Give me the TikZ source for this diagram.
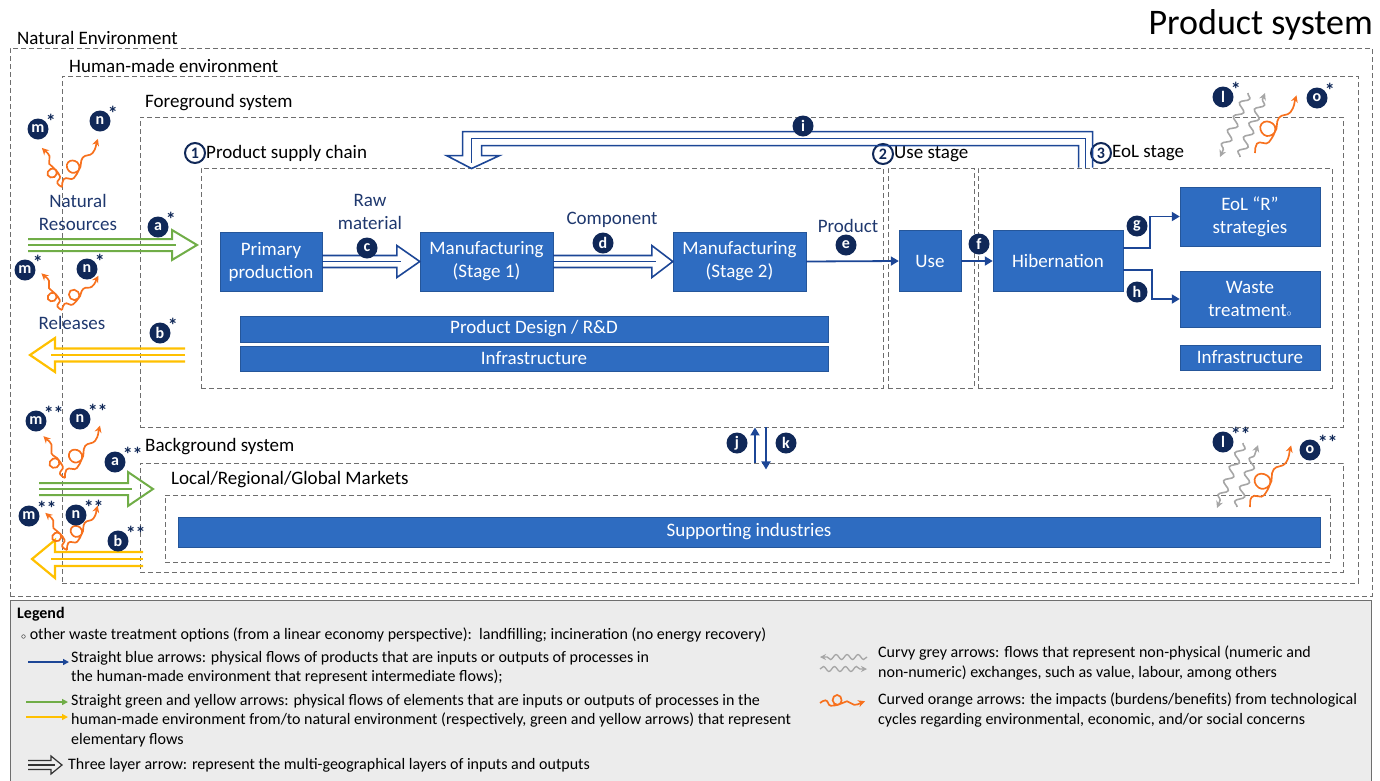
\documentclass[tikz,border=0pt]{standalone}
\usepackage{fontspec}
\setmainfont{Carlito}
\usetikzlibrary{arrows.meta,calc,decorations.pathmorphing,positioning}

\definecolor{BoxBlue}{RGB}{46,108,193}
\definecolor{Navy}{RGB}{16,40,88}
\definecolor{LabelBlue}{RGB}{31,56,110}
\definecolor{FlowBlue}{RGB}{28,70,150}
\definecolor{LeafGreen}{RGB}{112,173,71}
\definecolor{Amber}{RGB}{255,192,0}
\definecolor{Tangerine}{RGB}{247,113,30}
\definecolor{Slate}{RGB}{166,166,166}
\definecolor{FrameGrey}{RGB}{110,110,110}
\definecolor{Paper}{RGB}{236,236,236}

\newcommand{\Tripath}[6]{%
  \coordinate (tb) at ($(#2)!#6pt!(#1)$);
  \draw[#3] ($(#1)!#4pt!90:(#2)$) -- ($(tb)!#4pt!90:(#2)$) -- ($(tb)!#5pt!90:(#2)$) -- (#2)
     -- ($(tb)!#5pt!-90:(#2)$) -- ($(tb)!#4pt!-90:(#2)$) -- ($(#1)!#4pt!-90:(#2)$);
  \draw[#3] (#1) -- ($(tb)!4pt!(#2)$);}

\begin{document}
\begin{tikzpicture}
[
x=1pt, y=-1pt,
Frame/.style={rectangle, draw=FrameGrey, dash pattern=on 5pt off 3pt, line width=0.9pt, inner sep=0pt},
Process/.style={rectangle, draw=BoxBlue!80!black, fill=BoxBlue, text=white, align=center, inner sep=0pt, font=\fontsize{19}{23}\selectfont},
Caption/.style={anchor=west, inner sep=0pt, font=\fontsize{19}{22}\selectfont},
Flowtext/.style={text=LabelBlue, align=center, inner sep=0pt, font=\fontsize{19}{23}\selectfont},
Tag/.style={circle, fill=Navy, text=white, font=\bfseries\fontsize{16}{16}\selectfont, minimum size=21pt, inner sep=0pt},
Star/.style={text=Navy, font=\bfseries\fontsize{20}{20}\selectfont, inner sep=0pt, anchor=west},
Num/.style={circle, draw=Navy, line width=2pt, fill=white, text=Navy, font=\bfseries\fontsize{16}{16}\selectfont, minimum size=20pt, inner sep=0pt},
Flow/.style={draw=FlowBlue, line width=1.8pt, -{Triangle[length=8pt,width=9pt]}},
TriBlue/.style={draw=FlowBlue, line width=1.6pt},
TriGreen/.style={draw=LeafGreen, line width=2pt},
TriYellow/.style={draw=Amber, line width=2.2pt},
TriDark/.style={draw=black!80, line width=1.2pt},
Wavy/.style={draw=Slate, line width=1.6pt, decorate, decoration={snake, amplitude=4pt, segment length=15pt, post length=6pt}, -{Stealth[length=7pt,width=7pt]}},
WavySmall/.style={draw=Slate, line width=1.3pt, decorate, decoration={snake, amplitude=2.5pt, segment length=11pt, post length=5pt}, -{Stealth[length=6pt,width=6pt]}},
Curl/.style={draw=Tangerine, line width=1.7pt, -{Stealth[length=7pt,width=7pt]}},
Impact/.pic={\draw[Curl] (0,0) to[out=30,in=180] (6,-3) to[out=0,in=180] (12,3) to[out=0,in=-90] (24,-3)
   to[out=90,in=0] (19,-9) to[out=180,in=90] (14,-3) to[out=-90,in=180] (20,2)
   to[out=0,in=180] (30,-2) to[out=0,in=180] (38,2) to[out=0,in=200] (50,-2);},
Legendtext/.style={anchor=west, inner sep=0pt, align=left, font=\fontsize{16}{19.5}\selectfont},
]

\useasboundingbox (0,0) rectangle (1380,780);

\node[Frame, minimum width=1362pt, minimum height=548pt] (nat)    at ( 691,322  ) {};
\node[Frame, minimum width=1296pt, minimum height=507pt] (hum)    at ( 710,329.5) {};
\node[Frame, minimum width=1203pt, minimum height=310pt] (fg)     at (741.5,272 ) {};
\node[Frame, minimum width=682pt,  minimum height=220pt] (psc)    at ( 542,278  ) {};
\node[Frame, minimum width=86pt,   minimum height=220pt] (usebox) at ( 931,278  ) {};
\node[Frame, minimum width=354pt,  minimum height=220pt] (eol)    at (1155,278  ) {};
\node[Frame, minimum width=1203pt, minimum height=109pt] (bg)     at (741.5,517.5) {};
\node[Frame, minimum width=1165pt, minimum height=67pt]  (mkt)    at (747.5,528.5) {};

\node[anchor=east, inner sep=0pt, font=\fontsize{36}{40}\selectfont] (title) at (1373,25) {Product system};
\node[Caption] (natlbl) at ( 17, 38) {Natural Environment};
\node[Caption] (humlbl) at ( 69, 66) {Human-made environment};
\node[Caption] (fglbl)  at (145,103) {Foreground system};
\node[Caption] (bglbl)  at (145,447) {Background system};
\node[Caption] (mktlbl) at (171,480) {Local/Regional/Global Markets};

\node[Num] (one)   at ( 195,153) {1};
\node[Caption] (onelbl) at ( 206,153) {Product supply chain};
\node[Num] (two)   at ( 883,154) {2};
\node[Caption] (twolbl) at ( 894,154) {Use stage};
\node[Num] (three) at (1101,153) {3};
\node[Caption] (threelbl) at (1112,153) {EoL stage};

\node[Process, minimum width=102pt, minimum height=59pt] (prim)  at ( 271,261.5) {Primary\\production};
\node[Process, minimum width=133pt, minimum height=59pt] (man1)  at (486.5,261.5) {Manufacturing\\(Stage 1)};
\node[Process, minimum width=133pt, minimum height=59pt] (man2)  at (739.5,261.5) {Manufacturing\\(Stage 2)};
\node[Process, minimum width=62pt,  minimum height=61pt] (use)   at ( 930,261  ) {Use};
\node[Process, minimum width=130pt, minimum height=61pt] (hib)   at (1058,261  ) {Hibernation};
\node[Process, minimum width=140pt, minimum height=59pt] (eolr)  at (1250,216.5) {EoL ``R''\\strategies};
\node[Process, minimum width=140pt, minimum height=56pt] (waste) at (1250,299  ) {Waste\\treatment{\fontsize{10}{10}\selectfont$\circ$}};
\node[Process, minimum width=140pt, minimum height=25pt] (infrathree) at (1250,357.5) {Infrastructure};
\node[Process, minimum width=588pt, minimum height=26pt] (design) at (534,329  ) {Product Design / R\&D};
\node[Process, minimum width=588pt, minimum height=25pt] (infraone) at (534,358.5) {Infrastructure};
\node[Process, minimum width=1142pt, minimum height=30pt] (support) at (749,532) {Supporting industries};

\node[Flowtext] (resources) at ( 78,212) {Natural\\Resources};
\node[Flowtext] (releases)  at ( 72,323) {Releases};
\node[Flowtext] (raw)       at (370,212) {Raw\\material};
\node[Flowtext] (comp)      at (612,220) {Component};
\node[Flowtext] (prod)      at (848,226) {Product};

\Tripath{prim.east}{man1.west}{TriBlue}{6}{16}{23}
\Tripath{man1.east}{man2.west}{TriBlue}{6}{16}{21}

\path (eol.north west) ++(108,0) coordinate (iS);
\path (psc.north west) ++(271,1) coordinate (iT);
\draw[TriBlue] ($(iS)+(7,0)$) |- ($(iT)+(-9,-37)$) -- ($(iT)+(-9,-13)$) -- ($(iT)+(-25,-13)$) -- (iT)
   -- ($(iT)+(28,-13)$) -- ($(iT)+(10,-13)$) |- ($(iS)+(-7,-22)$) -- ($(iS)+(-7,0)$);
\draw[TriBlue] (iS) |- ($(iT)+(0,-30)$) -- ($(iT)+(0,-6)$);

\draw[Flow] (man2.east) -- (use.west);
\draw[Flow] (use.east) -- (hib.west);
\draw[Flow] ([yshift=13pt]hib.east) -- ++(27,0) |- (eolr.west);
\draw[Flow] ([yshift=-9pt]hib.east) -- ++(29,0) |- (waste.west);

\coordinate (jx) at (755,0);
\coordinate (kx) at (766,0);
\draw[Flow] (bg.north -| jx) -- (fg.south -| jx);
\draw[Flow] (fg.south -| kx) -- ++(0,42);

\coordinate (aS)  at ( 28,245);
\coordinate (aT)  at (197,245);
\coordinate (bS)  at (185,355);
\coordinate (bT)  at ( 30,355);
\coordinate (aaS) at ( 39,489);
\coordinate (aaT) at (153,489);
\coordinate (bbS) at (143,559);
\coordinate (bbT) at ( 32,559);
\Tripath{aS}{aT}{TriGreen}{6}{15}{25}
\Tripath{bS}{bT}{TriYellow}{6.5}{17}{25}
\Tripath{aaS}{aaT}{TriGreen}{6}{17}{25}
\Tripath{bbS}{bbT}{TriYellow}{7}{19}{23}

\coordinate (rone)   at (62,187);
\coordinate (rtwo)   at (62,310);
\coordinate (rthree) at (65,478);
\coordinate (rfour)  at (67,550);
\pic[rotate=115,scale=0.88] at (rone)   {Impact};
\pic[rotate=51, scale=1.2 ] at (rone)   {Impact};
\pic[rotate=117,scale=0.84] at (rtwo)   {Impact};
\pic[rotate=41, scale=1.0 ] at (rtwo)   {Impact};
\pic[rotate=115,scale=0.94] at (rthree) {Impact};
\pic[rotate=54, scale=1.26] at (rthree) {Impact};
\pic[rotate=118,scale=0.86] at (rfour)  {Impact};
\pic[rotate=53, scale=1.08] at (rfour)  {Impact};
\pic[rotate=52, scale=1.42] at (1255,153) {Impact};
\pic[rotate=54, scale=1.48] at (1250,507) {Impact};

\draw[Wavy] (1248,93) -- (1220,157);
\draw[Wavy] (1240,157) -- (1265,93);
\draw[Wavy] (1243,443) -- (1217,508);
\draw[Wavy] (1237,507) -- (1258,445);

\node[Tag, label={[Star]north east:*}]   (mone)   at ( 38,129) {m};
\node[Tag, label={[Star]north east:*}]   (none)   at (100,121) {n};
\node[Tag, label={[Star]north east:*}]   (astar)  at (158,227) {a};
\node[Tag, label={[Star]north east:*}]   (mtwo)   at ( 25,270) {m};
\node[Tag, label={[Star]north east:*}]   (ntwo)   at ( 87,269) {n};
\node[Tag, label={[Star]north east:*}]   (bstar)  at (160,333) {b};
\node[Tag, label={[Star]north east:**}]  (mthree) at ( 36,421) {m};
\node[Tag, label={[Star]north east:**}]  (nthree) at ( 80,419) {n};
\node[Tag, label={[Star]north east:**}]  (aastar) at (115,462) {a};
\node[Tag, label={[Star]north east:**}]  (mfour)  at ( 29,516) {m};
\node[Tag, label={[Star]north east:**}]  (nfour)  at ( 76,515) {n};
\node[Tag, label={[Star]north east:**}]  (bbstar) at (118,541) {b};
\node[Tag] (c) at (367,248) {c};
\node[Tag] (d) at (603,243) {d};
\node[Tag] (e) at (846,245) {e};
\node[Tag] (f) at (979,244) {f};
\node[Tag] (g) at (1137,226) {g};
\node[Tag] (h) at (1137,292) {h};
\node[Tag] (i) at (803,126) {i};
\node[Tag] (j) at (737,443) {j};
\node[Tag] (k) at (786,443) {k};
\node[Tag, label={[Star]north east:*}]  (lstar)  at (1223, 97) {l};
\node[Tag, label={[Star]north east:*}]  (ostar)  at (1317, 98) {o};
\node[Tag, label={[Star]north east:**}] (llstar) at (1223,442) {l};
\node[Tag, label={[Star]north east:**}] (oostar) at (1310,450) {o};

\draw[draw=FrameGrey, fill=Paper, line width=1pt] (10,600) rectangle (1371,782);
\node[Legendtext, font=\bfseries\fontsize{16}{19.5}\selectfont] (legend) at (17,614) {Legend};
\node[Legendtext] (lgwaste) at (21,635) {{\fontsize{10}{10}\selectfont$\circ$} other waste treatment options (from a linear economy perspective):\ \ landfilling; incineration (no energy recovery)};
\draw[Flow, line width=1.4pt, -{Triangle[length=6pt,width=6pt]}] (28,662) -- (69,662);
\node[Legendtext, anchor=north west] (lgblue) at (71,651) {Straight blue arrows: physical flows of products that are inputs or outputs of processes in\\the human-made environment that represent intermediate flows);};
\draw[draw=LeafGreen, line width=1.4pt, -{Triangle[length=6pt,width=6pt]}] (26,702) -- (68,702);
\draw[draw=Amber, line width=1.4pt, -{Triangle[length=6pt,width=6pt]}] (26,717) -- (68,717);
\node[Legendtext, anchor=north west] (lggreen) at (71,694) {Straight green and yellow arrows: physical flows of elements that are inputs or outputs of processes in the\\human-made environment from/to natural environment (respectively, green and yellow arrows) that represent\\elementary flows};
\coordinate (lgS) at (28,765);
\coordinate (lgT) at (62,765);
\Tripath{lgS}{lgT}{TriDark}{4.5}{9}{11}
\node[Legendtext] (lglayer) at (68,765) {Three layer arrow: represent the multi-geographical layers of inputs and outputs};
\draw[WavySmall] (867,657) -- (820,657);
\draw[WavySmall] (820,669) -- (867,669);
\node[Legendtext, anchor=north west] (lggrey) at (878,646) {Curvy grey arrows: flows that represent non-physical (numeric and\\non-numeric) exchanges, such as value, labour, among others};
\pic[scale=0.9] at (820,703) {Impact};
\node[Legendtext, anchor=north west] (lgorange) at (878,693) {Curved orange arrows: the impacts (burdens/benefits) from technological\\cycles regarding environmental, economic, and/or social concerns};

\end{tikzpicture}
\end{document}
